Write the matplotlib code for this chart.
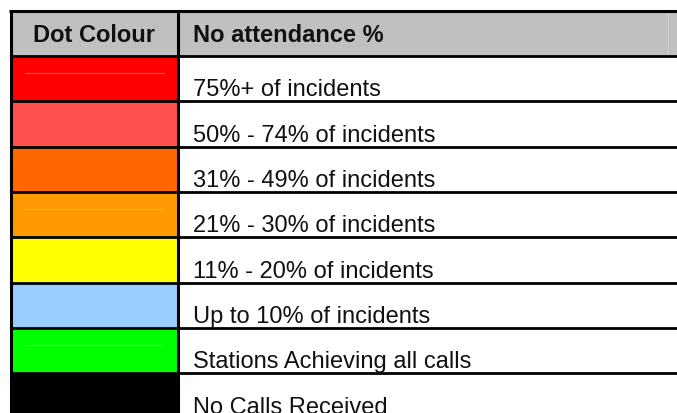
import matplotlib
matplotlib.use("Agg")
import matplotlib.pyplot as plt
from matplotlib.patches import Rectangle

# ---- data ----
header = ["Dot Colour", "No attendance %"]
dot_colours = ["#ff0000", "#ff5050", "#ff6600", "#ff9900",
               "#ffff00", "#99ccff", "#00ff00", "#000000"]
labels = ["75%+ of incidents", "50% - 74% of incidents", "31% - 49% of incidents",
          "21% - 30% of incidents", "11% - 20% of incidents", "Up to 10% of incidents",
          "Stations Achieving all calls", "No Calls Received"]
faint_line_colours = {0: "#ff5a4a", 3: "#ffb040", 6: "#50ff50"}

# ---- layout (pixels) ----
W, H = 677, 414
left, divider, right = 10.5, 178, 680
top, head_h, row_h = 12, 45, 45.3
font = ["Liberation Sans", "DejaVu Sans"]
fs = 17

fig = plt.figure(figsize=(W / 100, H / 100), dpi=100)
ax = fig.add_axes([0, 0, 1, 1])
ax.set_xlim(0, W)
ax.set_ylim(H, 0)
ax.axis("off")

# header
ax.add_patch(Rectangle((left, top), right - left, head_h, facecolor="#c0c0c0", edgecolor="none"))
ax.plot([668, 668], [top + 3, top + head_h - 3], color="#cfcfcf", lw=0.8)
ax.text((left + divider) / 2, top + head_h / 2 + 1, header[0], ha="center", va="center",
        fontsize=fs, fontweight="bold", family=font, color="#111111")
ax.text(193, top + head_h / 2 + 1, header[1], ha="left", va="center",
        fontsize=fs, fontweight="bold", family=font, color="#111111")

y0 = top + head_h
for i, (c, lab) in enumerate(zip(dot_colours, labels)):
    yt = y0 + i * row_h
    ax.add_patch(Rectangle((left, yt), divider - left, row_h, facecolor=c, edgecolor="none"))
    if i in faint_line_colours:
        ax.plot([25, 164], [yt + 17, yt + 17], color=faint_line_colours[i], lw=0.8)
    ax.text(193, yt + 39.5, lab, ha="left", va="baseline", fontsize=fs,
            family=font, color="#111111")

# grid lines
ax.plot([left - 1.5, right], [top, top], color="black", lw=2.2, solid_capstyle="butt")
for i in range(len(labels) + 1):
    y = y0 + i * row_h
    ax.plot([left, right], [y, y], color="black", lw=2.0, solid_capstyle="butt")
ax.plot([left, left], [top, H + 5], color="black", lw=2.2, solid_capstyle="butt")
ax.plot([divider, divider], [top, H + 5], color="black", lw=2.2, solid_capstyle="butt")

fig.savefig("out.png", dpi=100)
